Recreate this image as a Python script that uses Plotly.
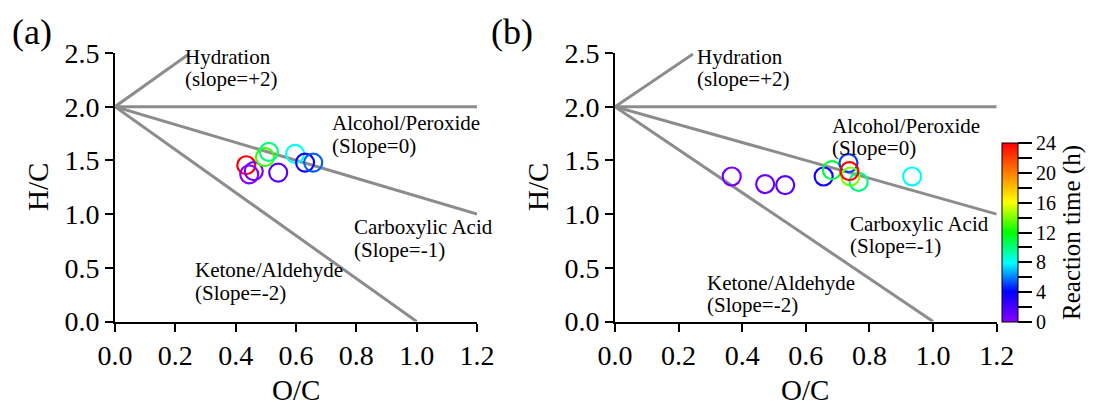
"""Van Krevelen diagrams (H/C vs O/C) for two reaction series, coloured by reaction time."""

import plotly.graph_objects as go

# ---- data ----
oc_a = [0.435, 0.445, 0.46, 0.541, 0.497, 0.51, 0.597, 0.63, 0.657]
hc_a = [1.455, 1.37, 1.40, 1.387, 1.53, 1.58, 1.56, 1.48, 1.48]
time_a = [24, 0, 0.5, 1.5, 13, 10, 8, 3.5, 5.5]

oc_b = [0.367, 0.472, 0.535, 0.656, 0.682, 0.734, 0.74, 0.766, 0.737, 0.934]
hc_b = [1.35, 1.28, 1.27, 1.35, 1.41, 1.475, 1.35, 1.30, 1.40, 1.35]
time_b = [0.5, 1, 1.5, 3.5, 11, 5, 14, 10, 24, 8]

# reference lines from (0, 2)
ref_lines = {
    "hydration": ([0, 0.245], [2, 2.49]),
    "alcohol": ([0, 1.2], [2, 2]),
    "carboxylic": ([0, 1.2], [2, 1.0]),
    "ketone": ([0, 1.0], [2, 0]),
}

labels_a = [
    (0.225, 2.36, "Hydration", "(slope=+2)"),
    (0.713, 1.74, "Alcohol/Peroxide", "(Slope=0)"),
    (0.784, 0.775, "Carboxylic Acid", "(Slope=-1)"),
    (0.257, 0.375, "Ketone/Aldehyde", "(Slope=-2)"),
]
labels_b = [
    (0.252, 2.36, "Hydration", "(slope=+2)"),
    (0.677, 1.72, "Alcohol/Peroxide", "(Slope=0)"),
    (0.733, 0.805, "Carboxylic Acid", "(Slope=-1)"),
    (0.283, 0.255, "Ketone/Aldehyde", "(Slope=-2)"),
]

time_ticks = list(range(0, 25, 2))
time_ticktext = [str(t) if t % 4 == 0 else "" for t in time_ticks]

RAINBOW = [
    [0.0, "#8a00ff"], [0.17, "#0000ff"], [0.33, "#00ffff"],
    [0.5, "#00ff00"], [0.67, "#ffff00"], [0.83, "#ff8000"], [1.0, "#ff0000"],
]
FONT = "Liberation Serif, Times New Roman, serif"
LINE_GREY = "#8c8c8c"
W, H = 1095, 408
OFF = 8  # page body margin shifts the figure


def fx(px):
    return (px - OFF) / W


def fy(py):
    return 1 - (py - OFF) / H


fig = go.Figure()

for xa, ya in (("x", "y"), ("x2", "y2")):
    for xs, ys in ref_lines.values():
        fig.add_trace(go.Scatter(
            x=xs, y=ys, mode="lines", xaxis=xa, yaxis=ya,
            line=dict(color=LINE_GREY, width=3), showlegend=False, hoverinfo="skip",
        ))

fig.add_trace(go.Scatter(
    x=oc_a, y=hc_a, mode="markers", xaxis="x", yaxis="y", showlegend=False,
    marker=dict(symbol="circle-open", size=18, color=time_a, colorscale=RAINBOW,
                cmin=0, cmax=24, line=dict(width=2.2)),
))
fig.add_trace(go.Scatter(
    x=oc_b, y=hc_b, mode="markers", xaxis="x2", yaxis="y2", showlegend=False,
    marker=dict(
        symbol="circle-open", size=18, color=time_b, colorscale=RAINBOW,
        cmin=0, cmax=24, line=dict(width=2.2),
        colorbar=dict(
            x=fx(1002), xanchor="left", y=fy(232.5), yanchor="middle",
            len=179, lenmode="pixels", thickness=16, thicknessmode="pixels",
            xpad=0, ypad=0,
            outlinecolor="black", outlinewidth=1,
            tickvals=time_ticks, ticktext=time_ticktext,
            ticksuffix="\u00a0\u00a0",
            ticks="outside", ticklen=14, tickwidth=2, tickcolor="black",
            tickfont=dict(family=FONT, size=20, color="black"),
            title=dict(text="Reaction time (h)", side="right",
                       font=dict(family=FONT, size=25, color="black")),
        ),
    ),
))

axis_common = dict(
    showgrid=False, zeroline=False, showline=True, linecolor="black", linewidth=2,
    ticks="outside", ticklen=8, tickwidth=2, tickcolor="black", automargin=False,
    tickfont=dict(family=FONT, size=28, color="black"), tickformat=".1f",
)
fig.update_layout(
    width=W, height=H, margin=dict(l=0, r=0, t=0, b=0, autoexpand=False),
    paper_bgcolor="white", plot_bgcolor="white",
    xaxis=dict(axis_common, domain=[fx(115), fx(477)], range=[0, 1.2],
               dtick=0.2, anchor="y"),
    yaxis=dict(axis_common, domain=[fy(321.5), fy(53)], range=[0, 2.5],
               dtick=0.5, anchor="x"),
    xaxis2=dict(axis_common, domain=[fx(615), fx(996.7)], range=[0, 1.2],
                dtick=0.2, anchor="y2"),
    yaxis2=dict(axis_common, domain=[fy(321.5), fy(53)], range=[0, 2.5],
                dtick=0.5, anchor="x2"),
)

ann_font = dict(family=FONT, size=21, color="black")
for (xref, yref), labels in ((("x", "y"), labels_a), (("x2", "y2"), labels_b)):
    for x, y, line1, line2 in labels:
        fig.add_annotation(x=x, y=y + 0.105, xref=xref, yref=yref, text=line1,
                           showarrow=False, xanchor="left", yanchor="middle", font=ann_font)
        fig.add_annotation(x=x, y=y - 0.105, xref=xref, yref=yref, text=line2,
                           showarrow=False, xanchor="left", yanchor="middle", font=ann_font)

for text, px, py, angle, size in (
    ("(a)", 32, 32, 0, 36), ("(b)", 512, 32, 0, 36),
    ("H/C", 38, 187, -90, 29), ("H/C", 538, 187, -90, 29),
    ("O/C", 296, 390, 0, 29), ("O/C", 805, 390, 0, 29),
):
    fig.add_annotation(x=fx(px), y=fy(py), xref="paper", yref="paper",
                       text=text, showarrow=False, textangle=angle,
                       xanchor="center", yanchor="middle",
                       font=dict(family=FONT, size=size, color="black"))

fig.write_html("out.html")
